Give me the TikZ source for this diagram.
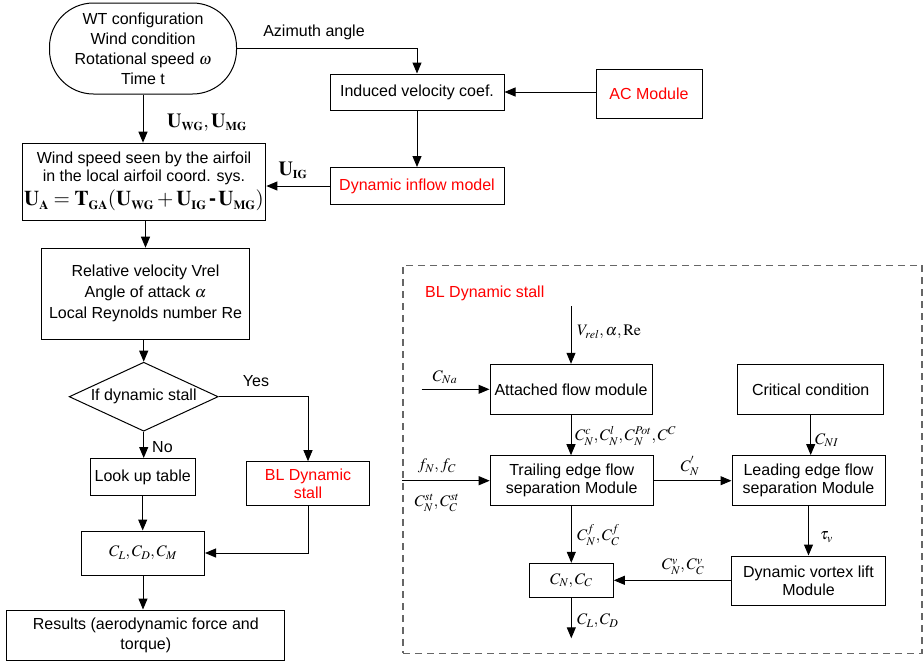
\documentclass[tikz,border=0pt]{standalone}
\usepackage{mathptmx}
\usepackage[no-math]{fontspec}
\setmainfont{Liberation Sans}
\usetikzlibrary{arrows.meta,shapes.geometric}

\newcommand\bsub[1]{_{\mathbf{\scriptscriptstyle #1}}}

\tikzset{
  base/.style    = {draw, line width=1pt, align=center, inner sep=2pt,
                    font=\fontsize{16}{18}\selectfont},
  box/.style     = {base, rectangle},
  redbox/.style  = {box, text=red},
  startbox/.style= {base, rectangle, rounded corners=44pt},
  decision/.style= {base, diamond, aspect=2.16, inner sep=0pt},
  frame/.style   = {draw=black!60, line width=1.1pt, dash pattern=on 7pt off 5pt},
  arr/.style     = {line width=1pt, -{Triangle[length=11pt,width=9pt]}},
  lbl/.style     = {inner sep=0pt, font=\fontsize{16}{18}\selectfont},
  boldlbl/.style = {inner sep=0pt, font=\fontsize{20}{22}\selectfont},
}

\begin{document}
\begin{tikzpicture}
\begin{scope}[x=1pt, y=-1pt] % pixel grid
\useasboundingbox (0,0) rectangle (923,662);
%%
%% main flow, left
\node[startbox, minimum width=187pt, minimum height=91pt, font=\fontsize{16}{20}\selectfont] (input) at (143,48.5)
  {WT configuration\\Wind condition\\Rotational speed $\omega$\\Time t};
\node[box, minimum width=174pt, minimum height=36pt] (induced) at (417,92) {Induced velocity coef.};
\node[redbox, minimum width=106pt, minimum height=49pt] (acmod) at (649,94) {AC Module};
\node[redbox, minimum width=174pt, minimum height=37pt] (inflow) at (417,186) {Dynamic inflow model};
\node[box, minimum width=237pt, minimum height=77pt] (wind) at (144,181.7)
  {Wind speed seen by the airfoil\\in the local airfoil coord. sys.\\[4pt]
   {\fontsize{21}{24}\selectfont$\mathbf{U}\bsub{A}=\mathbf{T}\bsub{GA}(\mathbf{U}\bsub{WG}+\mathbf{U}\bsub{IG}\,\mbox{\bfseries -}\,\mathbf{U}\bsub{MG})$}};
\node[box, minimum width=208pt, minimum height=91pt, font=\fontsize{16}{21}\selectfont] (relvel) at (145.5,293.7)
  {Relative velocity Vrel\\Angle of attack $\alpha$\\Local Reynolds number Re};
\node[decision, minimum width=149pt, minimum height=69pt] (stall) at (143.7,396.7) {If dynamic stall};
\node[box, minimum width=105pt, minimum height=37pt] (lookup) at (142.7,477) {Look up table};
\node[redbox, minimum width=123pt, minimum height=44pt] (blstall) at (308,483.7) {BL Dynamic\\stall};
\node[box, minimum width=123pt, minimum height=44pt] (coeffs) at (143,553) {$C_L, C_D, C_M$};
\node[box, minimum width=278pt, minimum height=50pt, font=\fontsize{16}{20}\selectfont] (results) at (145.8,635)
  {Results (aerodynamic force and\\torque)};
%%
%% BL dynamic stall, right
\node[frame, minimum width=519pt, minimum height=388pt] (blframe) at (662.5,459.2) {};
\node[lbl, anchor=west, text=red] (bltitle) at (425,293.3) {BL Dynamic stall};
\node[box, minimum width=162pt, minimum height=50pt] (attached) at (571,389.3) {Attached flow module};
\node[box, minimum width=146pt, minimum height=50pt] (critical) at (810.7,389.5) {Critical condition};
\node[box, minimum width=163pt, minimum height=50pt] (trailing) at (571.7,480.7) {Trailing edge flow\\separation Module};
\node[box, minimum width=153pt, minimum height=50pt] (leading) at (808.5,480.5) {Leading edge flow\\separation Module};
\node[box, minimum width=154pt, minimum height=49pt] (vortex) at (808.5,580.5) {Dynamic vortex lift\\Module};
\node[box, minimum width=84pt, minimum height=34pt] (cnc) at (571.3,580.3) {$C_N, C_C$};
\coordinate (vin) at (571,306);
\coordinate (cnain) at (421.7,389.3);
\coordinate (clout) at (571,638.3);
%%
%% connectors, left
\draw[arr] (input.east) -| (induced.north);
\draw[arr] (acmod.west |- induced.east) -- (induced.east);
\draw[arr] (induced) -- (inflow);
\draw[arr] (inflow.west) -- (inflow.west -| wind.east);
\draw[arr] (input.south) -- (input.south |- wind.north);
\draw[arr] (wind.south -| relvel) -- (relvel.north);
\draw[arr] (relvel.south -| stall) -- (stall.north);
\draw[arr] (stall.south) -- (stall.south |- lookup.north);
\draw[arr] (stall.east) -| (blstall.north);
\draw[arr] (lookup.south) -- (lookup.south |- coeffs.north);
\draw[arr] (blstall.south) |- (coeffs.east);
\draw[arr] (coeffs.south) -- (coeffs.south |- results.north);
%% connectors, right
\draw[arr] (vin) -- (attached.north);
\draw[arr] (cnain) -- (attached.west);
\draw[arr] (attached.south) -- (attached.south |- trailing.north);
\draw[arr] (critical.south) -- (critical.south |- leading.north);
\draw[arr] (trailing.east) -- (trailing.east -| leading.west);
\draw[arr] (blframe.west |- trailing.west) -- (trailing.west);
\draw[arr] (leading.south) -- (leading.south |- vortex.north);
\draw[arr] (trailing.south -| cnc) -- (cnc.north);
\draw[arr] (vortex.west |- cnc.east) -- (cnc.east);
\draw[arr] (cnc.south) -- (cnc.south |- clout);
%%
%% labels
\node[lbl] (azimuth) at (314,32) {Azimuth angle};
\node[boldlbl, anchor=west] (uwgmg) at (167,123) {$\mathbf{U}\bsub{WG},\mathbf{U}\bsub{MG}$};
\node[boldlbl] (uig) at (293,170) {$\mathbf{U}\bsub{IG}$};
\node[lbl] (yes) at (256,381) {Yes};
\node[lbl, anchor=west] (no) at (152,447) {No};
\node[lbl, anchor=west] (vrel) at (577,332) {$V_{rel},\alpha,\mathrm{Re}$};
\node[lbl] (cna) at (445,377) {$C_{Na}$};
\node[lbl, anchor=west] (cnpot) at (575,436) {$C_N^c, C_N^l, C_N^{Pot}, C^C$};
\node[lbl, anchor=west] (cni) at (815,440) {$C_{NI}$};
\node[lbl] (cnprime) at (690,466) {$C_N^{'}$};
\node[lbl] (fnfc) at (437,466) {$f_N, f_C$};
\node[lbl] (cnst) at (437,503) {$C_N^{st}, C_C^{st}$};
\node[lbl, anchor=west] (cnf) at (577,535) {$C_N^f, C_C^f$};
\node[lbl, anchor=west] (tauv) at (820,537) {$\tau_v$};
\node[lbl] (cnv) at (683,567) {$C_N^v, C_C^v$};
\node[lbl, anchor=west] (cld) at (577,621) {$C_L, C_D$};
%%
\end{scope} % pixel grid end
\end{tikzpicture}
\end{document}
